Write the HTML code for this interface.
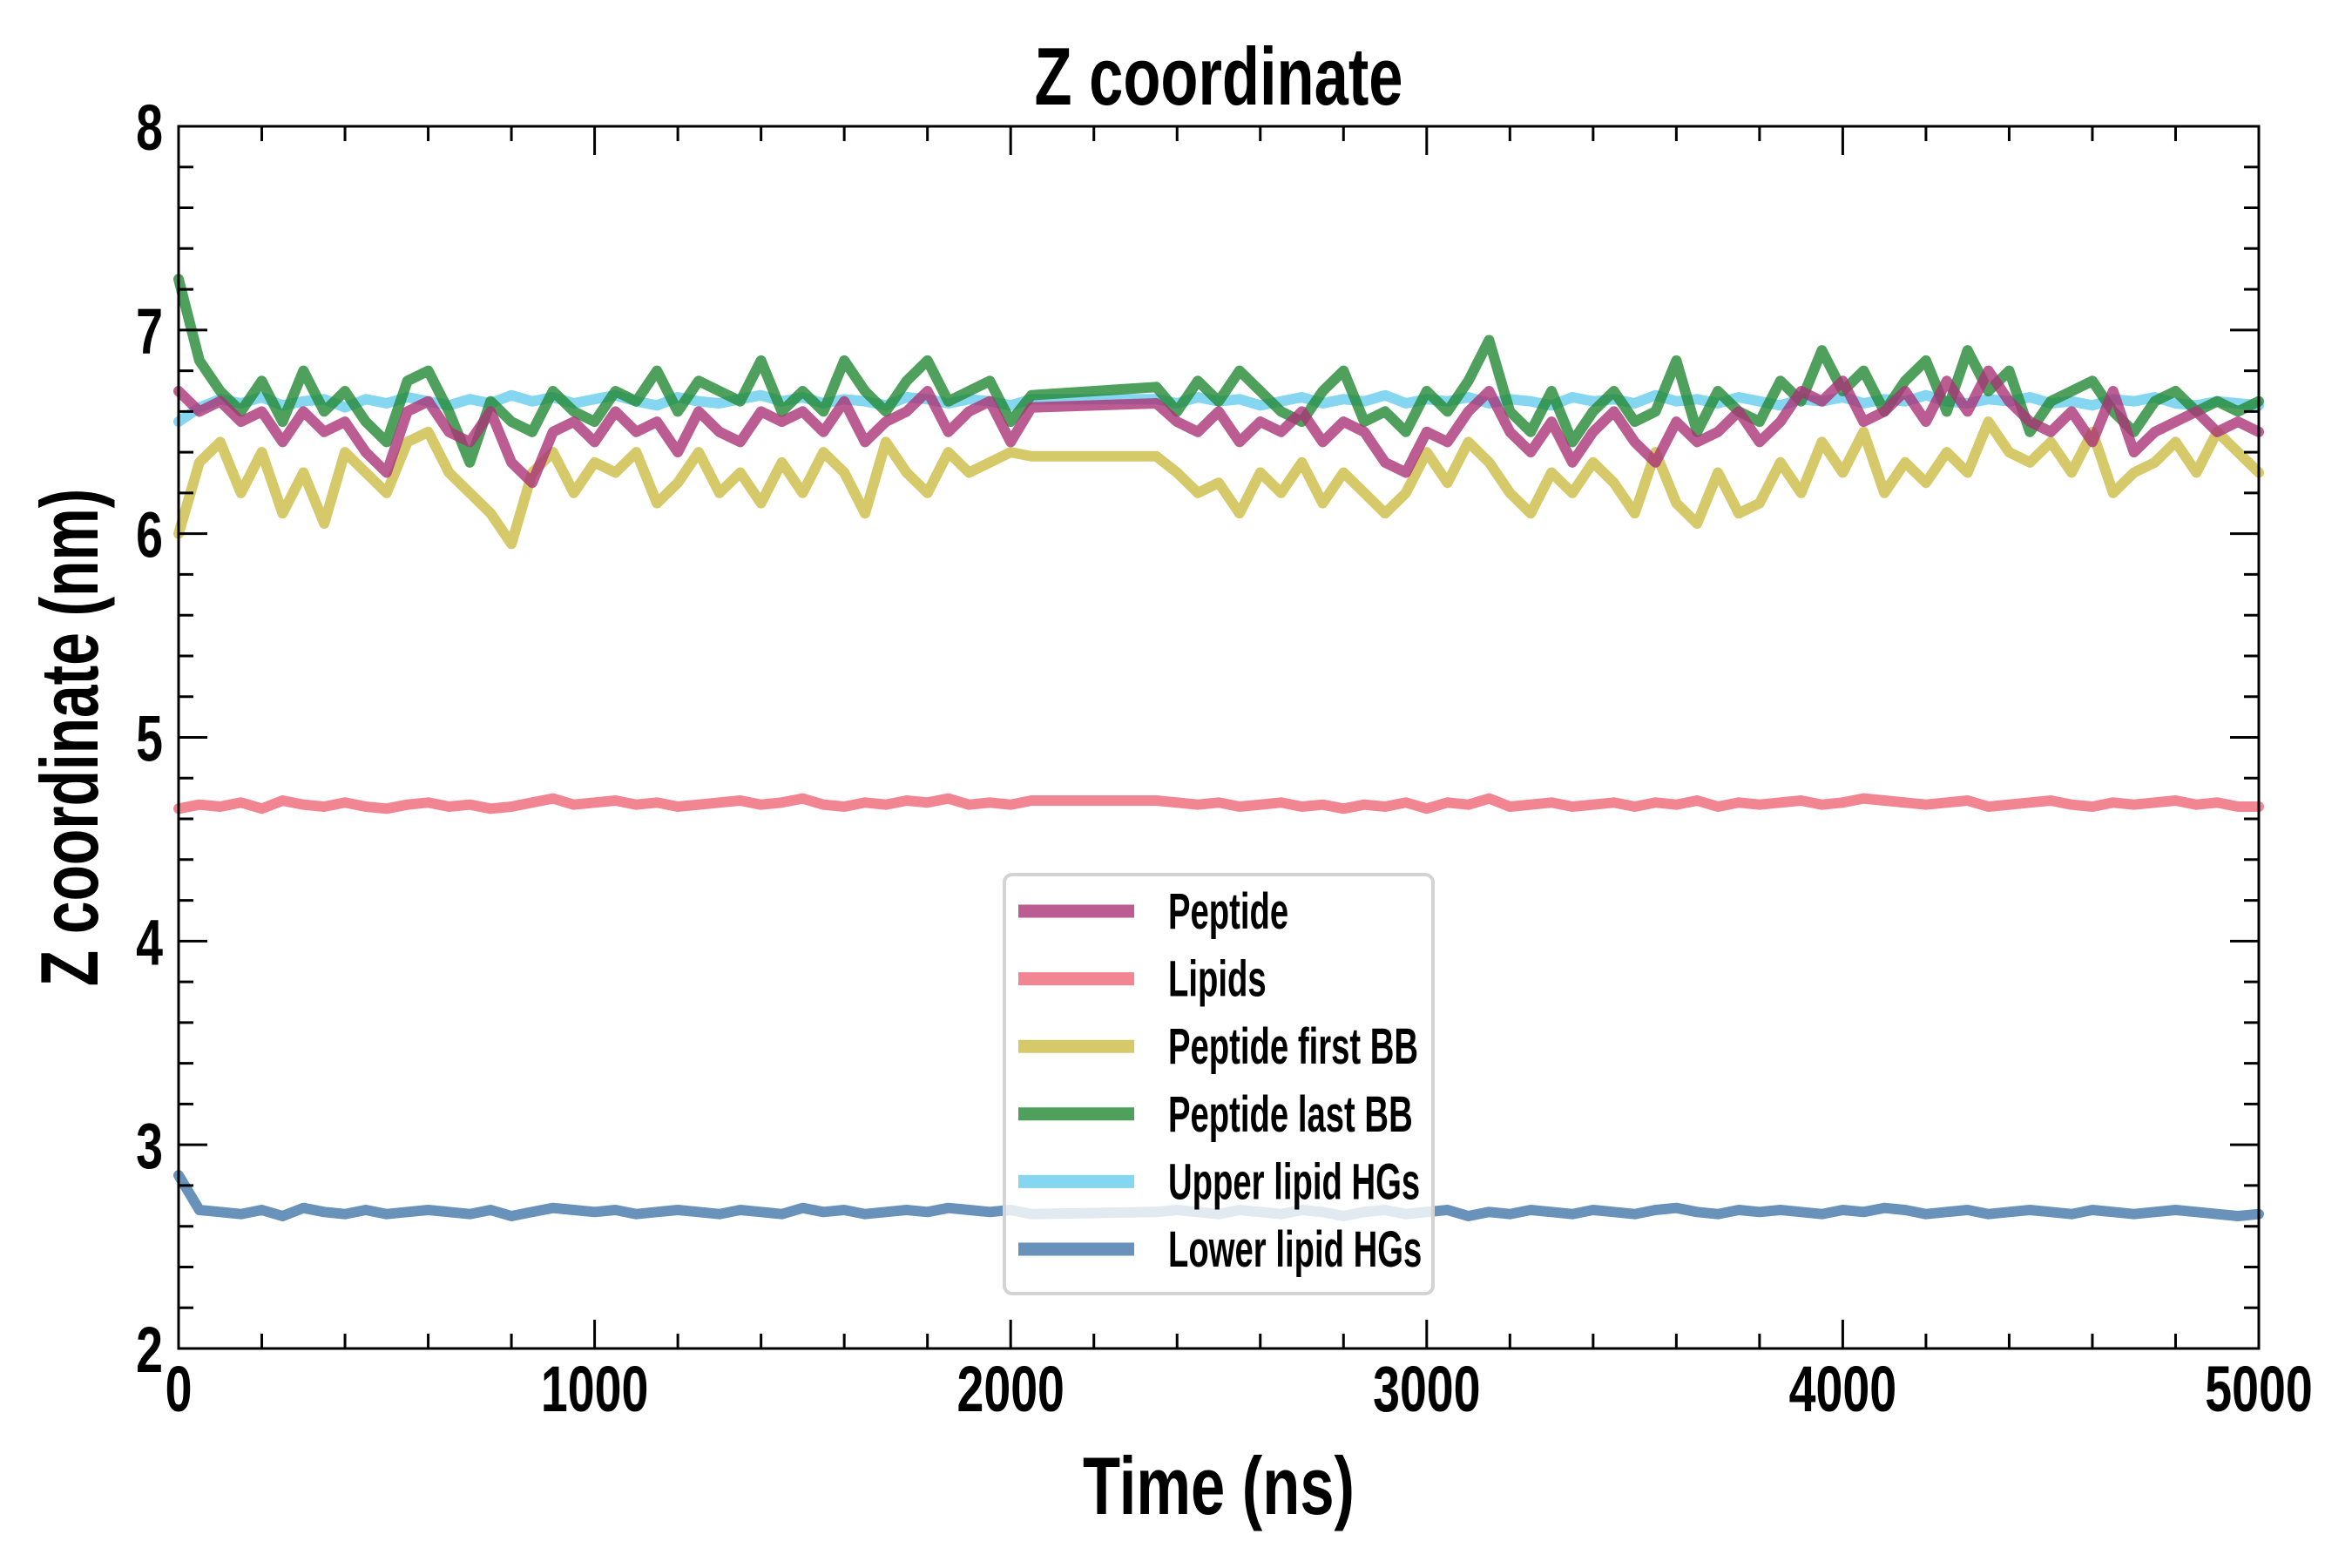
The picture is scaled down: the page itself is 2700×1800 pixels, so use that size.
<!DOCTYPE html>
<html><head><meta charset="utf-8"><style>
html,body{margin:0;padding:0;background:#fff;}
svg{display:block;}
text{font-family:"Liberation Sans Narrow","Liberation Sans",sans-serif;font-weight:bold;fill:#000;}
</style></head><body>
<svg id="chart" width="2700" height="1800" viewBox="0 0 2700 1800" xmlns="http://www.w3.org/2000/svg">
<rect width="2700" height="1800" fill="#fff"/>
<g id="marks"></g>
<g id="axes"></g>
<g id="legend"></g>
</svg>
<script>
const times = [0,50,100,150,200,250,300,350,400,450,500,550,600,650,700,750,800,850,900,950,1000,1050,1100,1150,1200,1250,1300,1350,1400,1450,1500,1550,1600,1650,1700,1750,1800,1850,1900,1950,2000,2050,
2350,2400,2450,2500,2550,2600,2650,2700,2750,2800,2850,2900,2950,3000,3050,3100,3150,3200,3250,3300,3350,3400,3450,3500,3550,3600,3650,3700,3750,3800,3850,3900,3950,4000,4050,4100,4150,4200,4250,4300,4350,4400,4450,4500,4550,4600,4650,4700,4750,4800,4850,4900,4950,5000];
const upperHG = [6.55,6.62,6.66,6.64,6.67,6.63,6.65,6.66,6.62,6.66,6.64,6.67,6.65,6.63,6.66,6.64,6.68,6.65,6.67,6.64,6.66,6.68,6.65,6.63,6.67,6.65,6.64,6.66,6.68,6.65,6.67,6.64,6.66,6.65,6.63,6.67,6.66,6.64,6.66,6.65,6.63,6.66,
6.66,6.64,6.67,6.65,6.66,6.63,6.65,6.67,6.64,6.66,6.65,6.68,6.64,6.66,6.65,6.67,6.64,6.66,6.65,6.63,6.67,6.65,6.66,6.64,6.68,6.65,6.66,6.64,6.67,6.65,6.63,6.66,6.65,6.67,6.64,6.66,6.65,6.68,6.65,6.64,6.66,6.65,6.67,6.64,6.65,6.63,6.66,6.65,6.67,6.64,6.63,6.65,6.64,6.63];
const firstBB = [6.0,6.35,6.45,6.2,6.4,6.1,6.3,6.05,6.4,6.3,6.2,6.45,6.5,6.3,6.2,6.1,5.95,6.3,6.4,6.2,6.35,6.3,6.4,6.15,6.25,6.4,6.2,6.3,6.15,6.35,6.2,6.4,6.3,6.1,6.45,6.3,6.2,6.4,6.3,6.35,6.4,6.38,
6.38,6.3,6.2,6.25,6.1,6.3,6.2,6.35,6.15,6.3,6.2,6.1,6.2,6.4,6.25,6.45,6.35,6.2,6.1,6.3,6.2,6.35,6.25,6.1,6.4,6.15,6.05,6.3,6.1,6.15,6.35,6.2,6.45,6.3,6.5,6.2,6.35,6.25,6.4,6.3,6.55,6.4,6.35,6.45,6.3,6.5,6.2,6.3,6.35,6.45,6.3,6.5,6.4,6.3];
const lastBB = [7.25,6.85,6.7,6.6,6.75,6.55,6.8,6.6,6.7,6.55,6.45,6.75,6.8,6.6,6.35,6.65,6.55,6.5,6.7,6.6,6.55,6.7,6.65,6.8,6.6,6.75,6.7,6.65,6.85,6.6,6.7,6.6,6.85,6.7,6.6,6.75,6.85,6.65,6.7,6.75,6.55,6.68,
6.72,6.6,6.75,6.65,6.8,6.7,6.6,6.55,6.7,6.8,6.55,6.6,6.5,6.7,6.6,6.75,6.95,6.6,6.5,6.7,6.45,6.6,6.7,6.55,6.6,6.85,6.5,6.7,6.6,6.55,6.75,6.65,6.9,6.7,6.8,6.6,6.75,6.85,6.6,6.9,6.7,6.8,6.5,6.65,6.7,6.75,6.6,6.5,6.65,6.7,6.6,6.65,6.6,6.65];
const peptide = [6.7,6.6,6.65,6.55,6.6,6.45,6.6,6.5,6.55,6.4,6.3,6.6,6.65,6.5,6.45,6.6,6.35,6.25,6.5,6.55,6.45,6.6,6.5,6.55,6.4,6.6,6.5,6.45,6.6,6.55,6.6,6.5,6.65,6.45,6.55,6.6,6.7,6.5,6.6,6.65,6.45,6.62,
6.64,6.55,6.5,6.6,6.45,6.55,6.5,6.6,6.45,6.55,6.5,6.35,6.3,6.5,6.45,6.6,6.7,6.5,6.4,6.55,6.35,6.5,6.6,6.45,6.35,6.55,6.45,6.5,6.6,6.45,6.55,6.7,6.65,6.75,6.55,6.6,6.7,6.55,6.75,6.6,6.8,6.65,6.55,6.5,6.6,6.45,6.7,6.4,6.5,6.55,6.6,6.5,6.55,6.5];
const lipids = [4.65,4.67,4.66,4.68,4.65,4.69,4.67,4.66,4.68,4.66,4.65,4.67,4.68,4.66,4.67,4.65,4.66,4.68,4.7,4.67,4.68,4.69,4.67,4.68,4.66,4.67,4.68,4.69,4.67,4.68,4.7,4.67,4.66,4.68,4.67,4.69,4.68,4.7,4.67,4.68,4.67,4.69,
4.69,4.68,4.67,4.68,4.66,4.67,4.68,4.66,4.67,4.65,4.67,4.66,4.68,4.65,4.68,4.67,4.7,4.66,4.67,4.68,4.66,4.67,4.68,4.66,4.68,4.67,4.69,4.66,4.68,4.67,4.68,4.69,4.67,4.68,4.7,4.69,4.68,4.67,4.68,4.69,4.66,4.67,4.68,4.69,4.67,4.66,4.68,4.67,4.68,4.69,4.67,4.68,4.66,4.66];
const lowerHG = [2.85,2.68,2.67,2.66,2.68,2.65,2.69,2.67,2.66,2.68,2.66,2.67,2.68,2.67,2.66,2.68,2.65,2.67,2.69,2.68,2.67,2.68,2.66,2.67,2.68,2.67,2.66,2.68,2.67,2.66,2.69,2.67,2.68,2.66,2.67,2.68,2.67,2.69,2.68,2.67,2.68,2.66,
2.67,2.68,2.67,2.66,2.68,2.67,2.66,2.68,2.67,2.65,2.67,2.68,2.66,2.67,2.68,2.65,2.67,2.66,2.68,2.67,2.66,2.68,2.67,2.66,2.68,2.69,2.67,2.66,2.68,2.67,2.68,2.67,2.66,2.68,2.67,2.69,2.68,2.66,2.67,2.68,2.66,2.67,2.68,2.67,2.66,2.68,2.67,2.66,2.67,2.68,2.67,2.66,2.65,2.66];
const seriesNames = ["Peptide","Lipids","Peptide first BB","Peptide last BB","Upper lipid HGs","Lower lipid HGs"];
const xTicks = [0,1000,2000,3000,4000,5000];
const yTicks = [2,3,4,5,6,7,8];

const NS="http://www.w3.org/2000/svg";
const L=205,R=2593,T=145,B=1548;
const xMin=0,xMax=5000,yMin=2,yMax=8;
function sx(v){return L+(v-xMin)/(xMax-xMin)*(R-L);}
function sy(v){return B-(v-yMin)/(yMax-yMin)*(B-T);}
function mk(tag,attrs,parent){const e=document.createElementNS(NS,tag);for(const k in attrs)e.setAttribute(k,attrs[k]);parent.appendChild(e);return e;}
function txt(x,y,s,size,anchor,parent,sxf,rot){
  const g=document.createElementNS(NS,'g');
  g.setAttribute('transform',`translate(${x},${y})`+(rot?` rotate(${rot})`:'')+` scale(${sxf||0.72},1)`);
  const t=document.createElementNS(NS,'text');
  t.setAttribute('font-size',size);t.setAttribute('text-anchor',anchor);t.textContent=s;
  g.appendChild(t);parent.appendChild(g);return g;
}
const marks=document.getElementById('marks');
const axes=document.getElementById('axes');
const legend=document.getElementById('legend');
const colors=["#AA3377","#EE6677","#CCBB44","#228833","#66CCEE","#4477AA"];
const drawOrder=[[upperHG,4,'upper-lipid-hgs-line'],[firstBB,2,'peptide-first-bb-line'],[lastBB,3,'peptide-last-bb-line'],[peptide,0,'peptide-line'],[lipids,1,'lipids-line'],[lowerHG,5,'lower-lipid-hgs-line']];
drawOrder.forEach(([vals,ci,name])=>{
  const n=Math.min(vals.length,times.length);
  let d='';
  for(let i=0;i<n;i++)d+=(i?'L':'M')+sx(times[i]).toFixed(1)+','+sy(vals[i]).toFixed(1);
  const p=mk('path',{d:d,fill:'none',stroke:colors[ci],'stroke-width':12,'stroke-opacity':0.8,'stroke-linejoin':'round','stroke-linecap':'round'},marks);
  
  
});
const fr=mk('rect',{x:L,y:T,width:R-L,height:B-T,fill:'none',stroke:'#000','stroke-width':3},axes);


for(let v=0;v<=5000;v+=200){
  const major=v%1000===0, len=major?33:17, x=sx(v);
  mk('line',{x1:x,x2:x,y1:B,y2:B-len,stroke:'#000','stroke-width':3},axes);
  mk('line',{x1:x,x2:x,y1:T,y2:T+len,stroke:'#000','stroke-width':3},axes);
}
for(let i=0;i<=30;i++){
  const v=2+i*0.2, major=i%5===0, len=major?33:17, y=sy(v);
  mk('line',{x1:L,x2:L+len,y1:y,y2:y,stroke:'#000','stroke-width':3},axes);
  mk('line',{x1:R,x2:R-len,y1:y,y2:y,stroke:'#000','stroke-width':3},axes);
}
xTicks.forEach(v=>{const g=txt(sx(v),B+72,String(v),74,'middle',axes,0.75);
  
  });
yTicks.forEach(v=>{const g=txt(L-18,sy(v)+27,String(v),74,'end',axes,0.75);
  
  });
const tt=txt((L+R)/2,120,'Z coordinate',94,'middle',axes,0.75);


const xt=txt((L+R)/2,1738,'Time (ns)',94,'middle',axes,0.75);


const yt=txt(112,(T+B)/2,'Z coordinate (nm)',94,'middle',axes,0.72,-90);


const lb=mk('rect',{x:1153,y:1004,width:492,height:481,rx:9,fill:'#fff','fill-opacity':0.8,stroke:'#d3d3d3','stroke-width':4},legend);


seriesNames.forEach((s,i)=>{
  const y=1046+i*77.6;
  const ln=mk('line',{x1:1169,x2:1302,y1:y,y2:y,stroke:colors[i],'stroke-width':15,'stroke-opacity':0.8},legend);
  
  
  const g=txt(1341,y+20,s,58,'start',legend,0.66);
  
  
});
</script>
</body></html>
